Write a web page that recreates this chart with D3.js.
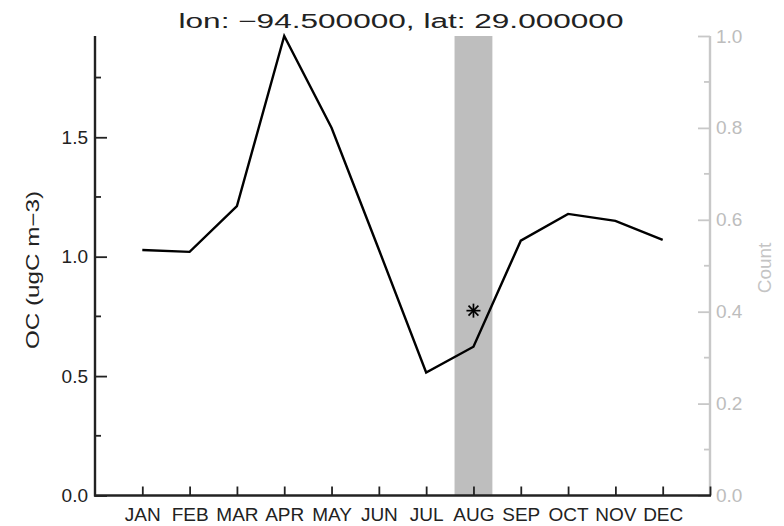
<!DOCTYPE html>
<html>
<head>
<meta charset="UTF-8">
<title></title>
<script src="https://cdn.jsdelivr.net/npm/d3@7"></script>
<style>
  body { margin: 0; background: #fff; }
  text { font-family: "Liberation Sans", Arial, sans-serif; }
</style>
</head>
<body>
<svg width="784" height="526"></svg>
<script>
// chart data
var months = ["JAN","FEB","MAR","APR","MAY","JUN","JUL","AUG","SEP","OCT","NOV","DEC"];
var ocModel = [1.028, 1.020, 1.212, 1.924, 1.54, 1.03, 0.515, 0.623, 1.067, 1.179, 1.150, 1.070];
var obsMonth = [8];
var obsValue = [0.774];
var counts = [0, 0, 0, 0, 0, 0, 0, 1, 0, 0, 0, 0];
var leftTicks = [0, 0.5, 1.0, 1.5];
var rightTicks = [0, 0.2, 0.4, 0.6, 0.8, 1.0];
var title = "lon: \u221294.500000, lat: 29.000000";

var svg = d3.select("svg");
// plot box ("top" is taken on window, so pl/pr/pt/pb)
var pl = 95, pr = 710, pt = 36, pb = 495.5;

var x = d3.scaleLinear().domain([0, 13]).range([pl, pr]);
var yL = d3.scaleLinear().domain([0, 1.924]).range([pb, pt]);
var yR = d3.scaleLinear().domain([0, 1]).range([pb, pt]);

var grayAxis = "#c8c8c8";

// count bars (grey band)
svg.selectAll("rect.cnt")
    .data(counts)
    .enter()
    .append("rect")
    .attr("class", "cnt")
    .attr("x", function(d, i){ return x(i + 1 - 0.4); })
    .attr("width", x(0.8) - x(0))
    .attr("y", function(d){ return yR(d); })
    .attr("height", function(d){ return yR(0) - yR(d); })
    .attr("fill", "#bebebe");

// model line
var line = d3.line()
    .x(function(d, i){ return x(i + 1); })
    .y(function(d){ return yL(d); });
svg.append("path")
    .datum(ocModel)
    .attr("d", line)
    .attr("fill", "none")
    .attr("stroke", "#000")
    .attr("stroke-width", 2.4)
    .attr("stroke-linejoin", "miter");

// observation asterisk
var star = svg.selectAll("g.obs")
    .data(obsValue)
    .enter()
    .append("g")
    .attr("class", "obs")
    .attr("transform", function(d, i){ return "translate(" + x(obsMonth[i]) + "," + yL(d) + ")"; });
[0, 45, 90, 135].forEach(function(a){
    star.append("line")
        .attr("x1", -7).attr("x2", 7).attr("y1", 0).attr("y2", 0)
        .attr("transform", "rotate(" + a + ")")
        .attr("stroke", "#000").attr("stroke-width", 1.7);
});

// left axis
var axL = d3.axisLeft(yL).tickValues(leftTicks).tickFormat(d3.format(".1f")).tickSize(-12);
var gL = svg.append("g").attr("transform", "translate(" + pl + ",0)").call(axL);
gL.select(".domain").remove();
gL.selectAll(".tick line").attr("stroke", "#222").attr("stroke-width", 1.8);
gL.selectAll(".tick text").attr("x", -7).attr("font-size", 19).attr("fill", "#222");
gL.selectAll("line.minor")
    .data([0.25, 0.75, 1.25, 1.75])
    .enter().append("line").attr("class", "minor")
    .attr("x1", 0).attr("x2", 6)
    .attr("y1", function(d){ return yL(d); }).attr("y2", function(d){ return yL(d); })
    .attr("stroke", "#222").attr("stroke-width", 1.8);
svg.append("line")
    .attr("x1", pl).attr("x2", pl).attr("y1", pt).attr("y2", pb + 1)
    .attr("stroke", "#222").attr("stroke-width", 2.4);

// right axis
var axR = d3.axisRight(yR).tickValues(rightTicks).tickFormat(d3.format(".1f")).tickSize(-12);
var gR = svg.append("g").attr("transform", "translate(" + pr + ",0)").call(axR);
gR.select(".domain").remove();
gR.selectAll(".tick line").attr("stroke", grayAxis).attr("stroke-width", 1.8);
gR.selectAll(".tick text").attr("x", 6).attr("font-size", 19).attr("fill", "#bdbdbd");
gR.selectAll("line.minor")
    .data([0.1, 0.3, 0.5, 0.7, 0.9])
    .enter().append("line").attr("class", "minor")
    .attr("x1", 0).attr("x2", -6)
    .attr("y1", function(d){ return yR(d); }).attr("y2", function(d){ return yR(d); })
    .attr("stroke", grayAxis).attr("stroke-width", 1.8);
svg.append("line")
    .attr("x1", pr).attr("x2", pr).attr("y1", pt).attr("y2", pb)
    .attr("stroke", grayAxis).attr("stroke-width", 2.4);

// bottom axis
var axB = d3.axisBottom(x).tickValues(d3.range(1, 14)).tickSize(-9)
    .tickFormat(function(d){ return months[d - 1] || ""; });
var gB = svg.append("g").attr("transform", "translate(0," + pb + ")").call(axB);
gB.select(".domain").remove();
gB.selectAll(".tick line").attr("stroke", "#222").attr("stroke-width", 1.8);
gB.selectAll(".tick text").attr("y", 11).attr("dy", "0.75em").attr("font-size", 19).attr("fill", "#222");
svg.append("line")
    .attr("x1", pl - 1).attr("x2", pr + 1).attr("y1", pb).attr("y2", pb)
    .attr("stroke", "#222").attr("stroke-width", 2.4);

// titles
svg.append("text")
    .attr("x", 401).attr("y", 27.5)
    .attr("text-anchor", "middle")
    .attr("font-size", 20)
    .attr("textLength", 445)
    .attr("lengthAdjust", "spacingAndGlyphs")
    .attr("fill", "#222")
    .text(title);

svg.append("text")
    .attr("transform", "translate(39,270) rotate(-90)")
    .attr("text-anchor", "middle")
    .attr("font-size", 18)
    .attr("textLength", 158)
    .attr("lengthAdjust", "spacingAndGlyphs")
    .attr("fill", "#222")
    .text("OC (ugC m\u22123)");

svg.append("text")
    .attr("transform", "translate(771,268) rotate(-90)")
    .attr("text-anchor", "middle")
    .attr("font-size", 19)
    .attr("fill", "#c4c4c4")
    .text("Count");
</script>
</body>
</html>
